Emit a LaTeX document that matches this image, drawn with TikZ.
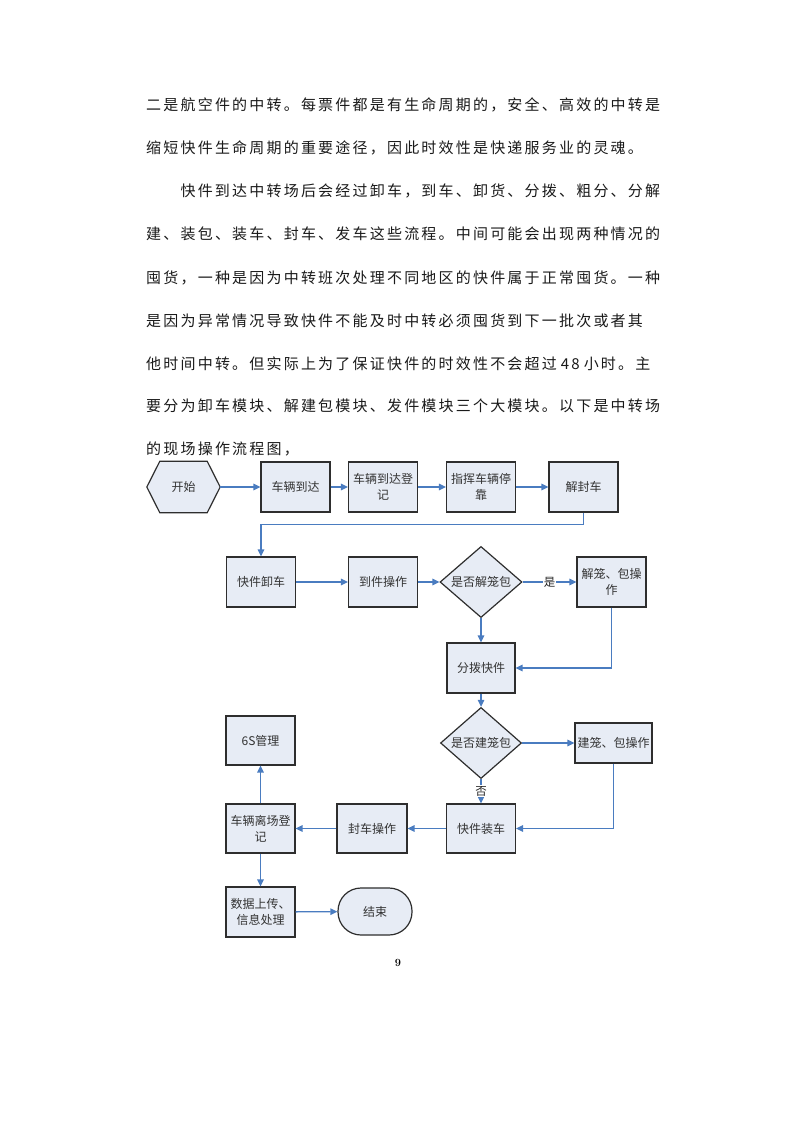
\documentclass[tikz,border=0pt]{standalone}
\usepackage{fontspec}
\newfontfamily\cjk{Noto Sans CJK SC}
\newfontfamily\cjkp[LetterSpace=14.7]{Noto Sans CJK SC}
\usetikzlibrary{shapes.geometric,arrows.meta,calc}
\definecolor{boxfill}{HTML}{E7ECF5}
\definecolor{boxline}{HTML}{2E2E2E}
\definecolor{arrowc}{HTML}{4A7CC0}
\definecolor{txt}{HTML}{1A1A1A}
\begin{document}
\begin{tikzpicture}[x=1pt,y=-1pt,
  para/.style={anchor=base west,inner sep=0pt,font=\cjkp\fontsize{15}{17}\selectfont,text=txt},
  box/.style={draw=boxline,fill=boxfill,line width=1.2pt,rectangle,inner sep=1pt,
    minimum width=69pt,minimum height=50pt,align=center,text=black!80,
    font=\cjk\fontsize{12}{16}\selectfont},
  dia/.style={box,diamond,inner sep=0pt},
  flow/.style={draw=arrowc,line width=1.3pt,-{Triangle[length=7pt,width=6.5pt]}},
  lbl/.style={fill=white,inner sep=1pt,font=\cjk\fontsize{11.5}{13}\selectfont,text=black!85}
]
\useasboundingbox[fill=white] (0,0) rectangle (794,1123);

% paragraph
\node[para] (p1) at (146,111) {二是航空件的中转。每票件都是有生命周期的，安全、高效的中转是};
\node[para] (p2) at (146,154) {缩短快件生命周期的重要途径，因此时效性是快递服务业的灵魂。};
\node[para] (p3) at (180.4,197) {快件到达中转场后会经过卸车，到车、卸货、分拨、粗分、分解};
\node[para] (p4) at (146,240) {建、装包、装车、封车、发车这些流程。中间可能会出现两种情况的};
\node[para] (p5) at (146,283) {囤货，一种是因为中转班次处理不同地区的快件属于正常囤货。一种};
\node[para] (p6) at (146,326) {是因为异常情况导致快件不能及时中转必须囤货到下一批次或者其};
\node[para] (p7) at (146,369) {他时间中转。但实际上为了保证快件的时效性不会超过\hspace{4pt}48\hspace{4pt}小时。主};
\node[para] (p8) at (146,411) {要分为卸车模块、解建包模块、发件模块三个大模块。以下是中转场};
\node[para] (p9) at (146,454) {的现场操作流程图，};

% start hexagon
\node[minimum width=73pt,minimum height=51pt,inner sep=0pt] (start) at (183.5,487) {};
\draw[draw=boxline,fill=boxfill,line width=1.2pt]
  (start.west) -- ($(start.north west)+(13,0)$) -- ($(start.north east)+(-13,0)$) --
  (start.east) -- ($(start.south east)+(-13,0)$) -- ($(start.south west)+(13,0)$) -- cycle;
\node[font=\cjk\fontsize{12}{16}\selectfont,text=black!80] (startlbl) at (start) {开始};

\node[box] (b1) at (295.5,487) {车辆到达};
\node[box] (b2) at (383,487) {车辆到达登\\记};
\node[box] (b3) at (481,487) {指挥车辆停\\靠};
\node[box] (b4) at (583.5,487) {解封车};

\node[box] (b5) at (261,582) {快件卸车};
\node[box] (b6) at (383,582) {到件操作};
\node[dia,minimum width=82pt,minimum height=59pt] (d1) at (481,582) {是否解笼包};
\node[box] (b7) at (611.5,582) {解笼、包操\\作};

\node[box,minimum width=68pt] (b8) at (481,668) {分拨快件};
\node[dia,minimum width=81pt,minimum height=51pt] (d2) at (481,743) {是否建笼包};
\node[box,minimum width=77pt,minimum height=40pt] (b9) at (613.5,743) {建笼、包操作};

\node[box,minimum height=49pt] (b10) at (260.5,740.5) {6S管理};
\node[box,minimum height=49pt] (b11) at (260.5,828.5) {车辆离场登\\记};
\node[box,minimum height=49pt,minimum width=70pt] (b12) at (372,828.5) {封车操作};
\node[box,minimum height=49pt] (b13) at (481,828.5) {快件装车};
\node[box] (b14) at (260.5,912) {数据上传、\\信息处理};
\node[box,rounded corners=23pt,minimum width=74pt,minimum height=47pt] (end) at (375,911.5) {结束};

% connectors
\draw[flow] (start.east) -- (b1.west);
\draw[flow] (b1) -- (b2);
\draw[flow] (b2) -- (b3);
\draw[flow] (b3) -- (b4);
\draw[flow] (b4.south) -- ++(0,12) -| (b5.north);
\draw[flow] (b5) -- (b6);
\draw[flow] (b6) -- (d1);
\draw[flow] (d1) -- node[lbl] {是} (b7);
\draw[flow] (d1) -- (b8);
\draw[flow] (b7.south) |- (b8.east);
\draw[flow] (b8) -- (d2);
\draw[flow] (d2) -- (b9);
\draw[flow] (d2) -- node[lbl] {否} (b13);
\draw[flow] (b9.south) |- (b13.east);
\draw[flow] (b13) -- (b12);
\draw[flow] (b12) -- (b11);
\draw[flow] (b11) -- (b10);
\draw[flow] (b11) -- (b14);
\draw[flow] (b14) -- (end);

% page number
\node[font=\fontsize{11}{13}\selectfont\bfseries] (pg) at (398,963) {9};
\end{tikzpicture}
\end{document}
